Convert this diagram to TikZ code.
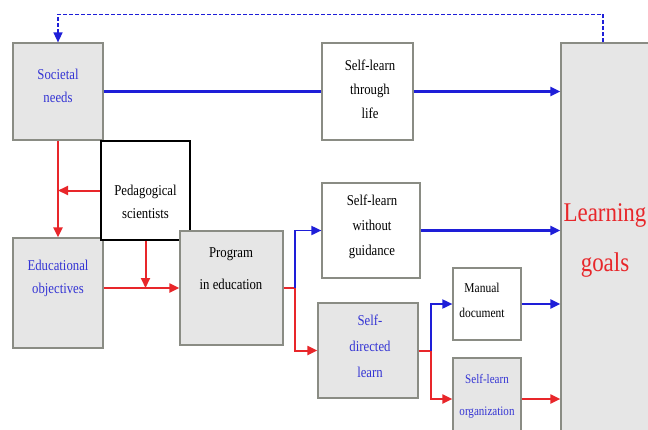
\documentclass[tikz,border=0pt]{standalone}
\usepackage{fontspec}
\setmainfont{Liberation Serif}
\newfontfamily\condfont{Liberation Serif}[FakeStretch=0.85]
\usetikzlibrary{arrows.meta}
\definecolor{lnblue}{HTML}{1E1ED8}
\definecolor{lnred}{HTML}{E8262A}
\definecolor{txblue}{HTML}{3434D4}
\definecolor{boxgray}{HTML}{E6E6E6}
\definecolor{edgegray}{HTML}{8A8C84}
\tikzset{
  gbox/.style={draw=edgegray, line width=1.2pt, fill=boxgray, inner sep=0pt},
  wbox/.style={draw=edgegray, line width=1.2pt, fill=white, inner sep=0pt},
  kbox/.style={draw=black, line width=1.2pt, fill=white, inner sep=0pt},
  txt/.style={align=center, inner sep=0pt, font=\condfont\fontsize{15}{23}\selectfont},
  smalltxt/.style={align=center, inner sep=0pt, font=\condfont\fontsize{13.5}{25}\selectfont},
  bigtxt/.style={align=center, inner sep=0pt, text=lnred, font=\condfont\fontsize{27}{50}\selectfont},
  bl/.style={draw=lnblue, line width=2.2pt},
  rd/.style={draw=lnred, line width=2pt},
  tip/.style={-{Triangle[length=10pt,width=9pt]}}
}
\begin{document}
\begin{tikzpicture}[x=1pt,y=-1pt]
\useasboundingbox (0,0) rectangle (648,429);
\clip (0,0) rectangle (648,429);

% boxes
\node[gbox, minimum width=90pt, minimum height=97pt] (sn) at (58,91.5) {};
\node[gbox, minimum width=90pt, minimum height=110pt] (eo) at (58,293) {};
\node[kbox, minimum width=89pt, minimum height=99pt] (ps) at (145.5,190.5) {};
\node[gbox, minimum width=103pt, minimum height=114pt] (pe) at (231.5,288) {};
\node[wbox, minimum width=91pt, minimum height=97pt] (tl) at (367.5,91.5) {};
\node[wbox, minimum width=98pt, minimum height=95pt] (wg) at (371,230.5) {};
\node[gbox, minimum width=100pt, minimum height=95pt] (sd) at (368,350.5) {};
\node[wbox, minimum width=68pt, minimum height=72pt] (md) at (487,304) {};
\node[gbox, minimum width=68pt, minimum height=82pt] (so) at (487,399) {};
\node[gbox, minimum width=89pt, minimum height=397pt] (lg) at (605.5,241.5) {};

% labels
\node[txt, text=txblue] (snt) at (58,86) {Societal\\needs};
\node[txt] (pst) at (145.5,201.5) {Pedagogical\\scientists};
\node[txt, text=txblue] (eot) at (58,278.5) {Educational\\objectives};
\node[txt, font=\condfont\fontsize{15}{32}\selectfont] (pet) at (231,269) {Program\\in education};
\node[txt, font=\condfont\fontsize{15}{24}\selectfont] (tlt) at (370,89) {Self-learn\\through\\life};
\node[txt, font=\condfont\fontsize{15}{25}\selectfont] (wgt) at (372,227) {Self-learn\\without\\guidance};
\node[txt, text=txblue, font=\condfont\fontsize{15}{26}\selectfont] (sdt) at (370,346) {Self-\\directed\\learn};
\node[smalltxt] (mdt) at (482,300.5) {Manual\\document};
\node[smalltxt, text=txblue, font=\condfont\fontsize{13}{32}\selectfont] (sot) at (487,396) {Self-learn\\organization};
\node[bigtxt] (lgt) at (605,240) {Learning\\goals};

% feedback loop
\draw[bl, line width=1.5pt, dash pattern=on 4pt off 2pt, tip] ([xshift=-2.5pt]lg.north) |- ([yshift=28pt]sn.north) -- (sn.north);

% blue paths
\draw[bl] (sn.east) -- (tl.west);
\draw[bl, tip] (tl.east) -- (tl.east -| lg.west);
\draw[bl, line width=2.8pt, tip] (wg.east) -- (wg.east -| lg.west);
\draw[bl, tip] (md.east) -- (md.east -| lg.west);

% red paths
\draw[rd, tip] (sn.south) -- (eo.north);
\draw[rd, tip] (ps.west) -- (ps.west -| sn.south);
\draw[rd, tip] (ps.south) -- (ps.south |- pe.west);
\draw[rd, tip] (eo.east |- pe.west) -- (pe.west);
\draw[rd, tip] (so.east) -- (so.east -| lg.west);

% branching after the programme
\coordinate (b1) at ([xshift=11pt]pe.east);
\draw[rd] (pe.east) -- (b1);
\draw[bl, line width=1.8pt, tip] (b1) |- (wg.west);
\draw[rd, tip] (b1) |- (sd.west);

% branching after self-directed learning
\coordinate (b2) at ([xshift=12pt]sd.east);
\draw[rd] (sd.east) -- (b2);
\draw[bl, line width=1.8pt, tip] (b2) |- (md.west);
\draw[rd, tip] (b2) |- (so.west);
\end{tikzpicture}
\end{document}
